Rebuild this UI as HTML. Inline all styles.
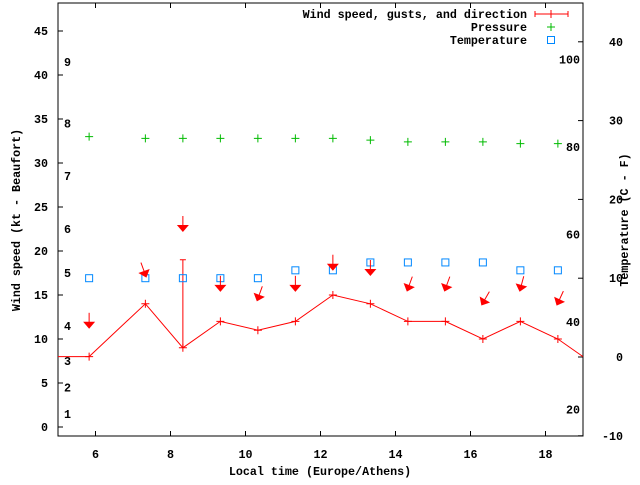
<!DOCTYPE html>
<html><head><meta charset="utf-8"><style>
body{margin:0;background:#fff}
svg text{font-family:"Liberation Mono",monospace;font-size:11.7px;font-weight:bold;fill:#000}
</style></head><body>
<svg id="c" width="640" height="480"></svg>
<script>
const times=[5.83,7.33,8.33,9.33,10.33,11.33,12.33,13.33,14.33,15.33,16.33,17.33,18.33];
const wind=[8,14,9,12,11,12,15,14,12,12,10,12,10];
const gustTime=[8.33];const gustVal=[19];
const pressure=[33,32.8,32.8,32.8,32.8,32.8,32.8,32.6,32.4,32.4,32.4,32.2,32.2];
const tempC=[10,10,10,10,10,11,11,12,12,12,12,11,11];
const arrowY=[11.5,17.3,22.5,15.7,14.6,15.7,18.1,17.5,15.7,15.7,14.1,15.7,14.1];
const arrowDeg=[0,-20,0,0,20,0,0,0,20,20,30,15,25];
const xTicks=[6,8,10,12,14,16,18];
const yTicks=[0,5,10,15,20,25,30,35,40,45];
const tTicks=[-10,0,10,20,30,40];
const bftLabels=["1","2","3","4","5","6","7","8","9"];
const bftVals=[1.5,4.5,7.5,11.5,17.5,22.5,28.5,34.5,41.5];
const fLabels=[20,40,60,80,100];
const L=58,R=583,T=3,B=436;
const X=v=>L+(v-5)*(R-L)/14;
const Y=v=>427-v*8.8;
const TY=v=>357-v*7.88;
const svg=document.getElementById('c');const NS='http://www.w3.org/2000/svg';
function mk(tag,a,txt){const e=document.createElementNS(NS,tag);for(const k in a)e.setAttribute(k,a[k]);if(txt!==undefined)e.textContent=txt;svg.appendChild(e);return e;}
let e;
e=mk('rect',{x:L,y:T,width:R-L,height:B-T,fill:'none',stroke:'#000'});


xTicks.forEach(v=>{mk('line',{x1:X(v),x2:X(v),y1:B,y2:B-5,stroke:'#000'});mk('line',{x1:X(v),x2:X(v),y1:T,y2:T+5,stroke:'#000'});
e=mk('text',{x:X(v),y:B+22,'text-anchor':'middle'},v);

});
yTicks.forEach(v=>{mk('line',{x1:L,x2:L+5,y1:Y(v),y2:Y(v),stroke:'#000'});
e=mk('text',{x:L-10,y:Y(v)+4,'text-anchor':'end'},v);

});
tTicks.forEach(v=>{mk('line',{x1:R,x2:R-5,y1:TY(v),y2:TY(v),stroke:'#000'});
e=mk('text',{x:R+40,y:TY(v)+4,'text-anchor':'end'},v);

});
bftLabels.forEach((s,i)=>{e=mk('text',{x:64,y:Y(bftVals[i])+4},s);

});
fLabels.forEach(f=>{e=mk('text',{x:R-3,y:TY((f-32)*5/9)+4,'text-anchor':'end'},f);

});
e=mk('text',{x:320,y:475,'text-anchor':'middle'},'Local time (Europe/Athens)');


e=mk('text',{x:0,y:0,'text-anchor':'middle',transform:'translate(20,220) rotate(-90)'},'Wind speed (kt - Beaufort)');


e=mk('text',{x:0,y:0,'text-anchor':'middle',transform:'translate(628,220) rotate(-90)'},'Temperature (C - F)');


// wind line
let pts=[[X(5),Y(wind[0])]].concat(times.map((t,i)=>[X(t),Y(wind[i])]));pts.push([X(19),Y(wind[wind.length-1]-2)]);
e=mk('polyline',{points:pts.map(p=>p.join(',')).join(' '),fill:'none',stroke:'#f00'});


times.forEach((t,i)=>{const x=X(t),y=Y(wind[i]);
e=mk('path',{d:`M${x-4},${y}H${x+4}M${x},${y-4}V${y+4}`,stroke:'#f00'});

});
gustTime.forEach((t,i)=>{const x=X(t);const k=times.indexOf(t);
e=mk('path',{d:`M${x},${Y(gustVal[i])}V${Y(wind[k>=0?k:0])}M${x-3},${Y(gustVal[i])}H${x+3}`,stroke:'#f00'});

});
times.forEach((t,i)=>{const x=X(t),y=Y(pressure[i]);
e=mk('path',{d:`M${x-4},${y}H${x+4}M${x},${y-4}V${y+4}`,stroke:'#0b0'});

});
times.forEach((t,i)=>{const x=X(t),y=TY(tempC[i]);
e=mk('rect',{x:x-3.5,y:y-3.5,width:7,height:7,fill:'none',stroke:'#08f'});

});
times.forEach((t,i)=>{const x=X(t),y=Y(arrowY[i]);
e=mk('g',{transform:`translate(${x},${y}) rotate(${arrowDeg[i]})`});


const l=document.createElementNS(NS,'line');l.setAttribute('x1',0);l.setAttribute('y1',-13);l.setAttribute('x2',0);l.setAttribute('y2',0);l.setAttribute('stroke','#f00');e.appendChild(l);
const p=document.createElementNS(NS,'path');p.setAttribute('d','M-6,-4L6,-4L0,3Z');p.setAttribute('fill','#f00');e.appendChild(p);});
// legend
const leg=[['Wind speed, gusts, and direction',14],['Pressure',27],['Temperature',40]];
leg.forEach(([s,y])=>{e=mk('text',{x:527,y:y+4,'text-anchor':'end'},s);

});
e=mk('path',{d:'M535,14H568M535,11V17M568,11V17M551,10V18',stroke:'#f00'});


e=mk('path',{d:'M547,27H555M551,23V31',stroke:'#0b0'});


e=mk('rect',{x:547.5,y:36.5,width:7,height:7,fill:'none',stroke:'#08f'});


</script></body></html>
